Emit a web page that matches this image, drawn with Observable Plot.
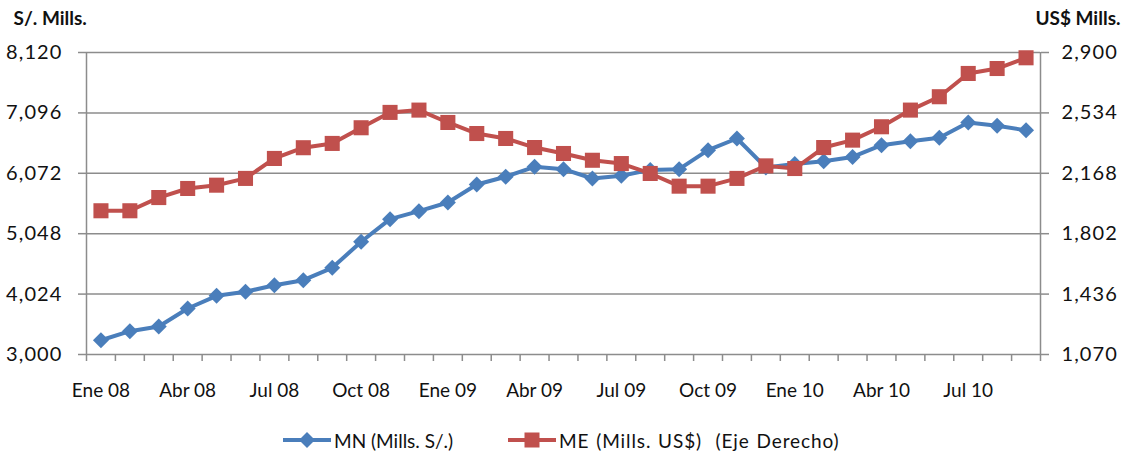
<!DOCTYPE html>
<html><head><meta charset="utf-8">
<script src="https://cdn.jsdelivr.net/npm/d3@7"></script>
<script src="https://cdn.jsdelivr.net/npm/@observablehq/plot@0.6"></script>
<style>
body{margin:0;background:#fff;font-family:Lato, "Open Sans", sans-serif;}
#legend{position:relative;height:32px;font-size:19px;color:#111;}
.item{position:absolute;top:0;height:32px;display:flex;align-items:center;white-space:pre;}
.item svg{margin-right:3px;}
.item.wide span{letter-spacing:0.9px;word-spacing:1px;}
g[aria-label="y-axis tick label"] text{letter-spacing:1.1px;font-size:20px;}
</style></head><body>
<div id="chart"></div>
<div id="legend"></div>
<script>
const months = ["Ene 08","Feb 08","Mar 08","Abr 08","May 08","Jun 08","Jul 08","Ago 08","Set 08","Oct 08","Nov 08","Dic 08",
  "Ene 09","Feb 09","Mar 09","Abr 09","May 09","Jun 09","Jul 09","Ago 09","Set 09","Oct 09","Nov 09","Dic 09",
  "Ene 10","Feb 10","Mar 10","Abr 10","May 10","Jun 10","Jul 10","Ago 10","Set 10"];
const tickLabels = ["Ene 08","Abr 08","Jul 08","Oct 08","Ene 09","Abr 09","Jul 09","Oct 09","Ene 10","Abr 10","Jul 10"];
const mnValues = [3242,3395,3475,3780,3995,4063,4175,4260,4470,4911,5294,5430,5577,5882,6013,6182,6142,5984,6030,6130,6142,6464,6662,6170,6230,6277,6350,6548,6617,6674,6933,6877,6800];
const meValues = [1941,1941,2021,2076,2096,2137,2258,2323,2349,2444,2537,2551,2476,2409,2379,2324,2288,2247,2227,2167,2090,2090,2137,2213,2197,2324,2369,2450,2551,2632,2773,2803,2868];
const leftTicks = [3000,4024,5048,6072,7096,8120];
const rightTicks = [1070,1436,1802,2168,2534,2900];
const seriesNames = ["MN (Mills. S/.)","ME (Mills. US$)  (Eje Derecho)"];
const leftTitle = "S/. Mills.";
const rightTitle = "US$ Mills.";

const blue = "#4A7EBB", red = "#C0504D", axisGray = "#8c8c8c";
const L0 = leftTicks[0], L1 = leftTicks[leftTicks.length-1];
const R0 = rightTicks[0], R1 = rightTicks[rightTicks.length-1];
const toLeft = v => L0 + (v - R0) * (L1 - L0) / (R1 - R0);
const toRight = v => R0 + (v - L0) * (R1 - R0) / (L1 - L0);
const fmt = d3.format(",");

const data = months.map((m, i) => ({i, m, mn: mnValues[i], me: toLeft(meValues[i])}));
const xDomain = [-0.5, months.length - 0.5];
const boundaries = d3.range(-0.5, months.length, 1);
const labelIdx = tickLabels.map(t => months.indexOf(t));

const chart = Plot.plot({
  width: 1128, height: 424,
  marginTop: 52, marginBottom: 70, marginLeft: 86, marginRight: 88,
  style: {fontFamily: "Lato, 'Open Sans', sans-serif", fontSize: "19px", color: "#111", background: "#fff", overflow: "visible"},
  x: {type: "linear", domain: xDomain, label: null},
  y: {domain: [L0, L1], label: null},
  marks: [
    Plot.gridY(leftTicks, {stroke: axisGray, strokeOpacity: 1, strokeWidth: 1.5}),
    Plot.ruleX(xDomain, {stroke: axisGray, strokeWidth: 1.5}),
    Plot.axisY(leftTicks, {anchor: "left", tickSize: 8, tickPadding: 16, tickFormat: fmt, stroke: axisGray, strokeWidth: 1.5, fill: "#111", label: null}),
    Plot.axisY(rightTicks.map(toLeft), {anchor: "right", tickSize: 8, tickPadding: 13, tickFormat: d => fmt(Math.round(toRight(d))), stroke: axisGray, strokeWidth: 1.5, fill: "#111", label: null}),
    Plot.axisX(boundaries, {tickSize: 7, tickFormat: () => "", stroke: axisGray, strokeWidth: 1.5, label: null}),
    Plot.axisX(labelIdx, {tickSize: 0, tickPadding: 29, tickFormat: i => months[i], fill: "#111", label: null}),
    Plot.line(data, {x: "i", y: "mn", stroke: blue, strokeWidth: 4}),
    Plot.dot(data, {x: "i", y: "mn", symbol: "diamond2", r: 7.2, fill: blue, stroke: "none"}),
    Plot.line(data, {x: "i", y: "me", stroke: red, strokeWidth: 4}),
    Plot.dot(data, {x: "i", y: "me", symbol: "square", r: 8.5, fill: red, stroke: "none"}),
    Plot.text([leftTitle], {frameAnchor: "top-left", dx: -73, dy: -34, textAnchor: "start", lineAnchor: "middle", fontWeight: "bold", fill: "#111"}),
    Plot.text([rightTitle], {frameAnchor: "top-right", dx: 80, dy: -34, textAnchor: "end", lineAnchor: "middle", fontWeight: "bold", fill: "#111"})
  ]
});
document.getElementById("chart").appendChild(chart);

const legend = document.getElementById("legend");
const items = [
  {name: seriesNames[0], color: blue, shape: "diamond", left: 283, cls: ""},
  {name: seriesNames[1], color: red, shape: "square", left: 508, cls: "wide"}
];
for (const it of items) {
  const div = document.createElement("div");
  div.className = "item " + it.cls;
  div.style.left = it.left + "px";
  const mk = it.shape === "diamond"
    ? `<polygon points="24,2 32,10 24,18 16,10" fill="${it.color}"/>`
    : `<rect x="16.5" y="2.5" width="15" height="15" fill="${it.color}"/>`;
  div.innerHTML = `<svg width="48" height="20"><line x1="0" y1="10" x2="48" y2="10" stroke="${it.color}" stroke-width="4"/>${mk}</svg><span>${it.name}</span>`;
  legend.appendChild(div);
}
</script>
</body></html>
